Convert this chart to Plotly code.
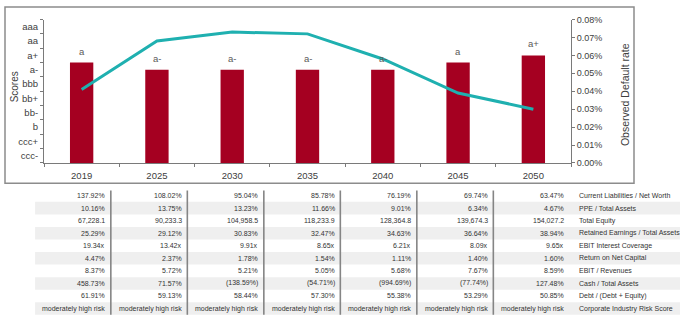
import plotly.graph_objects as go

# ---------------- data ----------------
years = ['2019', '2025', '2030', '2035', '2040', '2045', '2050']
ratings = ['a', 'a-', 'a-', 'a-', 'a-', 'a', 'a+']
scores = [7.0, 6.5, 6.5, 6.5, 6.5, 7.0, 7.5]
default_rate = [0.041, 0.068, 0.073, 0.072, 0.058, 0.039, 0.030]  # percent

score_labels = ['ccc-', 'ccc+', 'b', 'bb-', 'bb+', 'bbb', 'a-', 'a+', 'aa', 'aaa']
rate_ticks = [0.00, 0.01, 0.02, 0.03, 0.04, 0.05, 0.06, 0.07, 0.08]

row_labels = ['Current Liabilities / Net Worth', 'PPE / Total Assets', 'Total Equity',
              'Retained Earnings / Total Assets', 'EBIT Interest Coverage',
              'Return on Net Capital', 'EBIT / Revenues', 'Cash / Total Assets',
              'Debt / (Debt + Equity)', 'Corporate Industry Risk Score']
cl_nw = ['137.92%', '108.02%', '95.04%', '85.78%', '76.19%', '69.74%', '63.47%']
ppe_ta = ['10.16%', '13.75%', '13.23%', '11.66%', '9.01%', '6.34%', '4.67%']
tot_eq = ['67,228.1', '90,233.3', '104,958.5', '118,233.9', '128,364.8', '139,674.3', '154,027.2']
re_ta = ['25.29%', '29.12%', '30.83%', '32.47%', '34.63%', '36.64%', '38.94%']
ebit_cov = ['19.34x', '13.42x', '9.91x', '8.65x', '6.21x', '8.09x', '9.65x']
ronc = ['4.47%', '2.37%', '1.78%', '1.54%', '1.11%', '1.40%', '1.60%']
ebit_rev = ['8.37%', '5.72%', '5.21%', '5.05%', '5.68%', '7.67%', '8.59%']
cash_ta = ['458.73%', '71.57%', '(138.59%)', '(54.71%)', '(994.69%)', '(77.74%)', '127.48%']
debt_de = ['61.91%', '59.13%', '58.44%', '57.30%', '55.38%', '53.29%', '50.85%']
risk = ['moderately high risk'] * 7
table_rows = [cl_nw, ppe_ta, tot_eq, re_ta, ebit_cov, ronc, ebit_rev, cash_ta, debt_de, risk]

# ---------------- figure ----------------
W, H = 680, 322
FONT = 'Arial, Liberation Sans, sans-serif'
AXC = '#7a7a7a'
TXT = '#404040'
TBL = '#333333'
BAR = '#A50021'
LINE = '#1FB0B0'

fig = go.Figure()
fig.add_trace(go.Bar(x=years, y=scores, marker=dict(color=BAR, line=dict(width=0)),
                     width=0.31, hoverinfo='skip', showlegend=False))
fig.add_trace(go.Scatter(x=years, y=default_rate, yaxis='y2', mode='lines',
                         line=dict(color=LINE, width=3), showlegend=False))

def px_x(p):
    return p / W

def px_y(p):
    return 1 - p / H

annotations = []
for i, (r, s) in enumerate(zip(ratings, scores)):
    annotations.append(dict(x=i, y=s, xref='x', yref='y', text=r, showarrow=False,
                            xanchor='center', yanchor='bottom', yshift=4,
                            font=dict(family=FONT, size=9.5, color='#595959')))

annotations.append(dict(x=px_x(14), y=px_y(85), xref='paper', yref='paper', text='Scores',
                        textangle=-90, showarrow=False, xanchor='center', yanchor='middle',
                        font=dict(family=FONT, size=10, color=TXT)))
annotations.append(dict(x=px_x(625), y=px_y(93), xref='paper', yref='paper',
                        text='Observed Default rate', textangle=-90, showarrow=False,
                        xanchor='center', yanchor='middle',
                        font=dict(family=FONT, size=10.5, color=TXT)))

# table via its own axes (x3/y3): column units and row units
for k, row in enumerate(table_rows):
    for i, v in enumerate(row):
        annotations.append(dict(x=i + 1, y=k, xref='x3', yref='y3', text=v, showarrow=False,
                                xanchor='right', yanchor='middle',
                                font=dict(family=FONT, size=7.0, color=TBL)))
    annotations.append(dict(x=7.14, y=k, xref='x3', yref='y3', text=row_labels[k],
                            showarrow=False, xanchor='left', yanchor='middle',
                            font=dict(family=FONT, size=7.0, color=TBL)))

shapes = []
for k in range(len(table_rows)):
    if k % 2 == 1:
        shapes.append(dict(type='rect', xref='x3', yref='y3', x0=0.06, x1=8.5,
                           y0=k - 0.5, y1=k + 0.5, fillcolor='#efefef',
                           line=dict(width=0), layer='below'))
for i in range(len(years) - 1):
    shapes.append(dict(type='line', xref='x3', yref='y3', x0=i + 1.05, x1=i + 1.05,
                       y0=-0.4, y1=9.5, line=dict(color='#858585', width=1.6)))

# chart frame
shapes.append(dict(type='rect', xref='paper', yref='paper', x0=px_x(5), x1=px_x(634),
                   y0=px_y(184), y1=px_y(2), line=dict(color='#8c8c8c', width=1.5),
                   fillcolor='rgba(0,0,0,0)'))

u0 = 30.5
uw = 76.5
fig.update_layout(
    width=W, height=H, margin=dict(l=0, r=0, t=0, b=0),
    paper_bgcolor='white', plot_bgcolor='white',
    showlegend=False, bargap=0.5,
    xaxis=dict(domain=[px_x(44), px_x(571)], type='category', range=[-0.5, 6.5],
               showline=True, linecolor=AXC, linewidth=1, ticks='outside', ticklen=3,
               tickcolor=AXC, tickson='boundaries', showgrid=False, zeroline=False,
               ticklabelstandoff=4,
               tickfont=dict(family=FONT, size=9.5, color=TXT), anchor='y'),
    yaxis=dict(domain=[px_y(163), px_y(15)], range=[0, 10], showline=True,
               linecolor=AXC, linewidth=1, showgrid=False, zeroline=False,
               tickmode='array', tickvals=[i + 0.5 for i in range(10)],
               ticktext=score_labels, ticks='', ticklabelstandoff=3,
               minor=dict(tickmode='array', tickvals=list(range(11)), ticks='outside',
                          ticklen=3, tickcolor=AXC, showgrid=False),
               tickfont=dict(family=FONT, size=9.5, color=TXT), anchor='x'),
    yaxis2=dict(overlaying='y', side='right', range=[0, 0.08], tickmode='array',
                tickvals=rate_ticks, ticktext=[f'{v:.2f}%' for v in rate_ticks],
                showline=True, linecolor=AXC, linewidth=1, ticks='outside', ticklen=3,
                tickcolor=AXC, showgrid=False, zeroline=False, anchor='x',
                tickfont=dict(family=FONT, size=9, color=TXT)),
    xaxis3=dict(domain=[0, 1], range=[-u0 / uw, (W - u0) / uw], visible=False,
                anchor='y3', fixedrange=True),
    yaxis3=dict(domain=[0, px_y(188)], range=[(322 - 196.7) / 12.95, (188 - 196.7) / 12.95],
                visible=False, anchor='x3', fixedrange=True),
    annotations=annotations, shapes=shapes,
)

fig.write_html('out.html')
